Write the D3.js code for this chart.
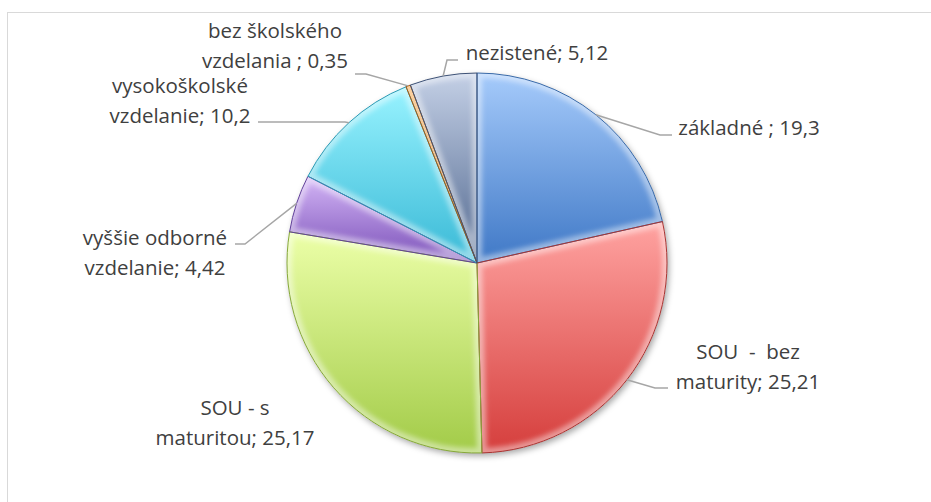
<!DOCTYPE html>
<html>
<head>
<meta charset="utf-8">
<script src="https://cdn.jsdelivr.net/npm/d3@7"></script>
<style>
  html, body { margin: 0; padding: 0; background: #ffffff; }
  svg { display: block; }
  text { font-family: "Open Sans", "Noto Sans", sans-serif; fill: #404040; }
</style>
</head>
<body>
<svg id="chart" width="931" height="502"></svg>
<script>
// ---- data ----
const categories = ["základné", "SOU  -  bez maturity", "SOU - s maturitou", "vyššie odborné vzdelanie", "vysokoškolské vzdelanie", "bez školského vzdelania", "nezistené"];
const values = [19.3, 25.21, 25.17, 4.42, 10.2, 0.35, 5.12];
const valueLabels = ["19,3", "25,21", "25,17", "4,42", "10,2", "0,35", "5,12"];
const labelLines = [
  ["základné ; 19,3"],
  ["SOU  -  bez", "maturity; 25,21"],
  ["SOU - s", "maturitou; 25,17"],
  ["vyššie odborné", "vzdelanie; 4,42"],
  ["vysokoškolské", "vzdelanie; 10,2"],
  ["bez školského", "vzdelania ; 0,35"],
  ["nezistené; 5,12"]
];
const colorsTop = ["#a6cbfb", "#ffa3a1", "#ecffa8", "#d4b6f6", "#98f3ff", "#f8aa50", "#c4d0e6"];
const colorsBottom = ["#3f78c6", "#d53e3c", "#a2cb48", "#7a50b8", "#39b9d6", "#c46810", "#50678e"];
const colorsEdge = ["#3a6aa8", "#a83432", "#86a83a", "#62429a", "#2c9ab4", "#a85a10", "#3e5276"];

// ---- layout (not data) ----
const cx = 477, cy = 263, R = 190;
const lineGap = 29.5;
// label block: centre x, first baseline y; leader: elbow and end points (null = no leader)
const labelLayout = [
  { x: 749, y: 135, elbow: [660, 135], end: [672, 135] },
  { x: 748, y: 359, elbow: [655, 388], end: [668, 388] },
  { x: 235, y: 415, elbow: null, end: null },
  { x: 155, y: 245, elbow: [245, 244], end: [235, 244] },
  { x: 180, y: 93, elbow: [345, 122], end: [258, 122] },
  { x: 275, y: 38, elbow: [366, 74], end: [355, 74] },
  { x: 537, y: 60, elbow: [447, 60], end: [458, 60] }
];

const svg = d3.select("#chart");
const defs = svg.append("defs");

// chart area border
svg.append("rect")
  .attr("x", 7.5).attr("y", 12.5).attr("width", 1000).attr("height", 1000)
  .attr("fill", "#ffffff").attr("stroke", "#d9d9d9").attr("stroke-width", 1);

// filters
const shadow = defs.append("filter").attr("id", "shadow")
  .attr("x", "-10%").attr("y", "-10%").attr("width", "130%").attr("height", "130%");
shadow.append("feDropShadow").attr("dx", 2).attr("dy", 3).attr("stdDeviation", 3)
  .attr("flood-color", "#000").attr("flood-opacity", 0.35);
const blur = defs.append("filter").attr("id", "blur");
blur.append("feGaussianBlur").attr("stdDeviation", 2.5);

const data = categories.map((c, i) => ({ name: c, value: values[i], i }));
const pie = d3.pie().sort(null).value(d => d.value).startAngle(0).endAngle(2 * Math.PI);
const arcs = pie(data);
const arc = d3.arc().innerRadius(0).outerRadius(R);

// gradients
arcs.forEach((a, i) => {
  const g = defs.append("linearGradient").attr("id", "grad" + i)
    .attr("x1", 0).attr("y1", 0).attr("x2", 0).attr("y2", 1);
  g.append("stop").attr("offset", "0%").attr("stop-color", colorsTop[i]);
  g.append("stop").attr("offset", "100%").attr("stop-color", colorsBottom[i]);
  defs.append("clipPath").attr("id", "clip" + i)
    .append("path").attr("d", arc(a)).attr("transform", `translate(${cx},${cy})`);
});

const pieG = svg.append("g").attr("transform", `translate(${cx},${cy})`);

// shadow base
pieG.append("circle").attr("r", R).attr("fill", "#ffffff").attr("filter", "url(#shadow)");

// slices
pieG.selectAll("path.slice").data(arcs).join("path")
  .attr("class", "slice")
  .attr("d", arc)
  .attr("fill", (d, i) => `url(#grad${i})`);

// bevel highlight
const bevelG = svg.append("g");
arcs.forEach((a, i) => {
  bevelG.append("g").attr("clip-path", `url(#clip${i})`)
    .append("path")
    .attr("transform", `translate(${cx},${cy})`)
    .attr("d", arc(a))
    .attr("fill", "none")
    .attr("stroke", "#ffffff")
    .attr("stroke-opacity", 0.45)
    .attr("stroke-width", 10)
    .attr("filter", "url(#blur)");
});

// edges
svg.append("g").attr("transform", `translate(${cx},${cy})`)
  .selectAll("path").data(arcs).join("path")
  .attr("d", arc)
  .attr("fill", "none")
  .attr("stroke", (d, i) => colorsEdge[i])
  .attr("stroke-width", 1)
  .attr("stroke-linejoin", "round");

// leader lines
const leaderG = svg.append("g");
arcs.forEach((a, i) => {
  const L = labelLayout[i];
  if (!L.elbow) return;
  const mid = (a.startAngle + a.endAngle) / 2;
  const sx = cx + R * Math.sin(mid), sy = cy - R * Math.cos(mid);
  leaderG.append("path")
    .attr("d", d3.line()([[sx, sy], L.elbow, L.end]))
    .attr("fill", "none")
    .attr("stroke", "#a6a6a6")
    .attr("stroke-width", 1.5);
});

// labels
const labelG = svg.append("g");
labelLines.forEach((lines, i) => {
  const L = labelLayout[i];
  const t = labelG.append("text")
    .attr("text-anchor", "middle")
    .attr("font-size", 20.5);
  lines.forEach((ln, k) => {
    t.append("tspan").attr("x", L.x).attr("y", L.y + k * lineGap)
      .style("white-space", "pre")
      .text(ln);
  });
});
</script>
</body>
</html>
